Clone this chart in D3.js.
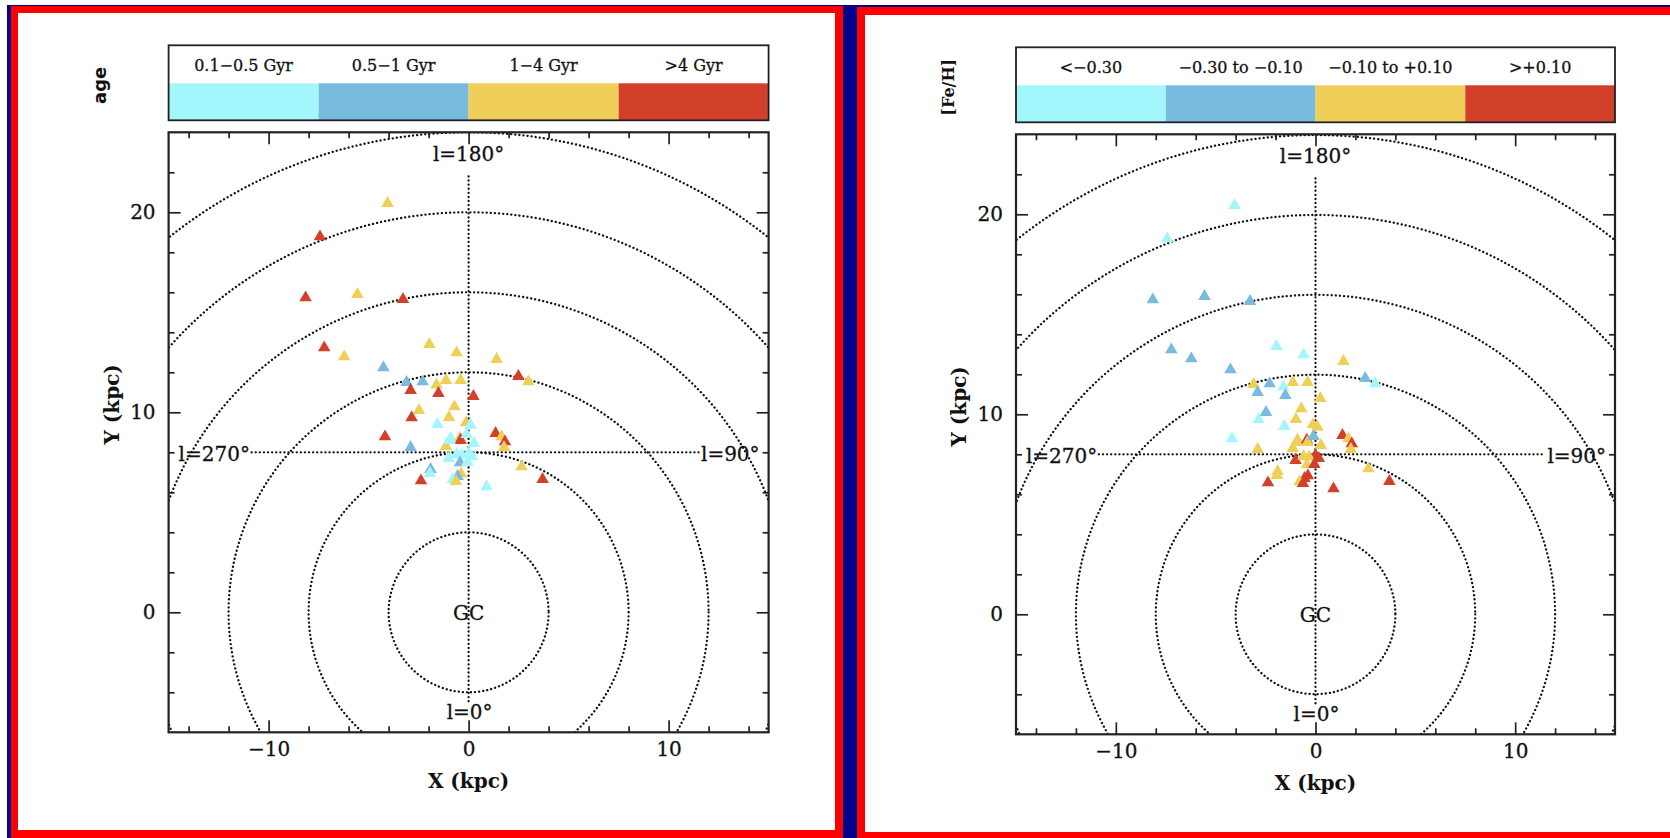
<!DOCTYPE html>
<html>
<head>
<meta charset="utf-8">
<script src="https://cdn.jsdelivr.net/npm/d3@7"></script>
<style>
body { margin: 0; background: #fff; }
svg { display: block; }
text { font-family: "DejaVu Serif", serif; fill: #111; }
</style>
</head>
<body>
<svg id="fig" width="1670" height="838"></svg>
<script>
// galactocentric X,Y (kpc) of each star, same stars in both panels
var starX = [-1.96, -0.60, 1.40, -4.26, 2.49, 2.99, -3.10, -2.30, -1.60, -1.13,
	-0.40, -2.90, -1.51, 0.24, -0.71, -2.48, -2.85, -0.98, -1.56, -0.13,
	0.10, -4.18, 1.35, 1.65, 1.82, 1.77, -0.90, -0.43, -0.40, -0.10,
	0.27, -1.13, -2.90, -0.96, 0.00, -0.33, 0.17, -1.00, -0.60, -0.43,
	-0.06, 2.65, -1.90, -1.93, -2.38, -0.38, -0.55, -0.80, -0.63, 3.70,
	0.90, -4.05, -7.43, -8.15, -5.56, -3.28, -7.22, -6.22];
var starY = [13.40, 12.98, 12.65, 12.23, 11.80, 11.53, 11.50, 11.53, 11.37, 11.60,
	11.60, 11.10, 10.95, 10.80, 10.28, 10.10, 9.73, 9.75, 9.40, 9.48,
	9.36, 8.78, 8.95, 8.78, 8.53, 8.25, 8.72, 8.72, 8.60, 8.90,
	8.45, 8.30, 8.25, 8.60, 7.95, 7.87, 7.80, 7.70, 7.90, 7.48,
	7.50, 7.28, 7.15, 6.95, 6.58, 6.93, 6.80, 6.63, 6.55, 6.65,
	6.28, 20.45, 18.78, 15.73, 15.90, 15.65, 13.23, 12.78];
// bin index 0..3 for age and for [Fe/H]
var ageBin = [2, 2, 2, 1, 3, 2, 1, 1, 2, 2,
	2, 3, 3, 3, 2, 2, 3, 2, 0, 2,
	0, 3, 3, 2, 3, 2, 0, 2, 3, 0,
	0, 2, 1, 0, 0, 0, 0, 0, 0, 1,
	0, 2, 1, 0, 3, 2, 1, 0, 2, 3,
	0, 2, 3, 3, 2, 3, 3, 2];
var fehBin = [0, 0, 2, 1, 1, 0, 2, 1, 0, 2,
	2, 1, 1, 2, 2, 1, 0, 2, 0, 2,
	2, 0, 3, 2, 3, 2, 2, 3, 2, 1,
	2, 2, 2, 2, 3, 2, 3, 3, 2, 2,
	3, 2, 2, 2, 3, 3, 3, 2, 3, 3,
	3, 0, 0, 1, 1, 1, 1, 1];

var ageLabels = ["0.1\u22120.5 Gyr", "0.5\u22121 Gyr", "1\u22124 Gyr", ">4 Gyr"];
var fehLabels = ["<\u22120.30", "\u22120.30 to \u22120.10", "\u22120.10 to +0.10", ">+0.10"];
var binColors = ["#a3f6fb", "#78bbdf", "#f0cf58", "#d2402a"];

var ringRadii = [4, 8, 12, 16, 20, 24];
var xMajor = [-10, 0, 10];
var xMinor = [-14, -12, -8, -6, -4, -2, 2, 4, 6, 8, 12, 14];
var yMajor = [0, 10, 20];
var yMinor = [-4, -2, 2, 4, 6, 8, 12, 14, 16, 18, 22];

var svg = d3.select("#fig");

// outer frame: navy back, red panel borders
svg.append("rect").attr("x", 7).attr("y", 5).attr("width", 1663).attr("height", 833).attr("fill", "#00008b");
svg.append("rect").attr("x", 11).attr("y", 6).attr("width", 832).attr("height", 832).attr("fill", "#ff0000");
svg.append("rect").attr("x", 18).attr("y", 13).attr("width", 817).attr("height", 817).attr("fill", "#fff");
svg.append("rect").attr("x", 857).attr("y", 7).attr("width", 813).attr("height", 831).attr("fill", "#ff0000");
svg.append("rect").attr("x", 865).attr("y", 15).attr("width", 805).attr("height", 817).attr("fill", "#fff");

function fmt(d) {
	return d < 0 ? "\u2212" + (-d) : "" + d;
}

function drawPanel(p) {
	var x = d3.scaleLinear().domain([-15, 15]).range([p.left, p.right]);
	var y = d3.scaleLinear().domain([-6, 24]).range([p.bottom, p.top]);
	var g = svg.append("g");

	// legend bar
	var band = d3.scaleBand().domain([0, 1, 2, 3]).range([p.left, p.right]);
	var lt = p.top - 87;
	g.selectAll(".band")
		.data([0, 1, 2, 3])
		.enter().append("rect")
		.attr("x", function(d) { return band(d); })
		.attr("y", lt + 38)
		.attr("width", band.bandwidth())
		.attr("height", 37)
		.attr("fill", function(d) { return binColors[d]; });
	g.append("rect")
		.attr("x", p.left).attr("y", lt)
		.attr("width", p.right - p.left).attr("height", 75)
		.attr("fill", "none").attr("stroke", "#222").attr("stroke-width", 1.8);
	g.selectAll(".blab")
		.data(p.labels)
		.enter().append("text")
		.attr("x", function(d, i) { return band(i) + band.bandwidth() / 2; })
		.attr("y", lt + 26)
		.attr("text-anchor", "middle")
		.style("font-size", "16px")
		.style("stroke", "#111").style("stroke-width", 0.3)
		.text(function(d) { return d; });
	g.append("text")
		.attr("transform", "translate(" + p.keyX + "," + (lt + 40) + ") rotate(-90)")
		.attr("text-anchor", "middle")
		.attr("dy", "0.35em")
		.style("font-family", p.keyFont)
		.style("font-weight", "bold")
		.style("font-size", p.keySize)
		.text(p.key);

	// clip for the rings
	var cid = "clip" + p.id;
	g.append("clipPath").attr("id", cid)
		.append("rect")
		.attr("x", p.left).attr("y", p.top)
		.attr("width", p.right - p.left).attr("height", p.bottom - p.top);

	var dots = { "stroke": "#111", "stroke-width": 2.3, "stroke-dasharray": "0.1 4", "stroke-linecap": "round", "fill": "none" };
	function dotted(sel) {
		for (var k in dots) sel.attr(k, dots[k]);
		return sel;
	}

	var rings = g.append("g").attr("clip-path", "url(#" + cid + ")");
	dotted(rings.selectAll("circle")
		.data(ringRadii)
		.enter().append("circle")
		.attr("cx", x(0)).attr("cy", y(0))
		.attr("r", function(d) { return x(d) - x(0); }));

	dotted(g.append("line")
		.attr("x1", x(0)).attr("x2", x(0))
		.attr("y1", y(-4.45)).attr("y2", y(21.8)));
	dotted(g.append("line")
		.attr("x1", x(-10.85)).attr("x2", x(11.5))
		.attr("y1", y(8)).attr("y2", y(8)));

	// longitude labels
	var lab = [
		{ t: "l=180\u00b0", x: 0, y: 22.95, a: "middle" },
		{ t: "l=270\u00b0", x: -14.5, y: 7.95, a: "start" },
		{ t: "l=90\u00b0", x: 14.55, y: 7.95, a: "end" },
		{ t: "l=0\u00b0", x: 0.05, y: -4.97, a: "middle" },
		{ t: "GC", x: 0, y: 0, a: "middle" }
	];
	g.selectAll(".llab")
		.data(lab)
		.enter().append("text")
		.attr("x", function(d) { return x(d.x); })
		.attr("y", function(d) { return y(d.y); })
		.attr("dy", "0.36em")
		.attr("text-anchor", function(d) { return d.a; })
		.style("font-size", "20px")
		.style("stroke", "#111").style("stroke-width", 0.3)
		.text(function(d) { return d.t; });

	// stars
	var sym = d3.symbol().type(d3.symbolTriangle).size(68);
	g.selectAll(".star")
		.data(d3.range(starX.length))
		.enter().append("path")
		.attr("d", sym)
		.attr("transform", function(i) { return "translate(" + x(starX[i]) + "," + y(starY[i]) + ")"; })
		.attr("fill", function(i) { return binColors[p.bins[i]]; });

	// axes: inward ticks all round
	function axisG(gen, tx, ty) {
		var a = g.append("g").attr("transform", "translate(" + tx + "," + ty + ")").call(gen);
		a.select(".domain").remove();
		a.selectAll("line").attr("stroke", "#222").attr("stroke-width", 1.7);
		a.selectAll("text").style("font-family", "DejaVu Serif").style("font-size", "20px")
			.attr("fill", "#111").style("stroke", "#111").style("stroke-width", 0.3);
		return a;
	}
	axisG(d3.axisBottom(x).tickValues(xMajor).tickSize(-12).tickPadding(10).tickFormat(fmt), 0, p.bottom);
	axisG(d3.axisBottom(x).tickValues(xMinor).tickSize(-6).tickFormat(""), 0, p.bottom);
	axisG(d3.axisTop(x).tickValues(xMajor).tickSize(-12).tickFormat(""), 0, p.top);
	axisG(d3.axisTop(x).tickValues(xMinor).tickSize(-6).tickFormat(""), 0, p.top);
	axisG(d3.axisLeft(y).tickValues(yMajor).tickSize(-12).tickPadding(13).tickFormat(fmt), p.left, 0);
	axisG(d3.axisLeft(y).tickValues(yMinor).tickSize(-6).tickFormat(""), p.left, 0);
	axisG(d3.axisRight(y).tickValues(yMajor).tickSize(-12).tickFormat(""), p.right, 0);
	axisG(d3.axisRight(y).tickValues(yMinor).tickSize(-6).tickFormat(""), p.right, 0);

	g.append("rect")
		.attr("x", p.left).attr("y", p.top)
		.attr("width", p.right - p.left).attr("height", p.bottom - p.top)
		.attr("fill", "none").attr("stroke", "#222").attr("stroke-width", 2.2);

	g.append("text")
		.attr("x", x(0)).attr("y", p.bottom + 56)
		.attr("text-anchor", "middle")
		.style("font-size", "20px").style("font-weight", "bold")
		.text("X (kpc)");
	g.append("text")
		.attr("transform", "translate(" + (p.left - 50) + "," + (p.top + 272) + ") rotate(-90)")
		.attr("text-anchor", "middle")
		.style("font-size", "20px").style("font-weight", "bold")
		.text("Y (kpc)");
}

drawPanel({ id: "age", left: 168.6, right: 768.6, top: 132.3, bottom: 732.3,
	bins: ageBin, labels: ageLabels, key: "age", keyX: 100, keyFont: "DejaVu Sans", keySize: "18px" });
drawPanel({ id: "feh", left: 1016, right: 1615, top: 134.3, bottom: 734.3,
	bins: fehBin, labels: fehLabels, key: "[Fe/H]", keyX: 948, keyFont: "DejaVu Serif", keySize: "16px" });
</script>
</body>
</html>
